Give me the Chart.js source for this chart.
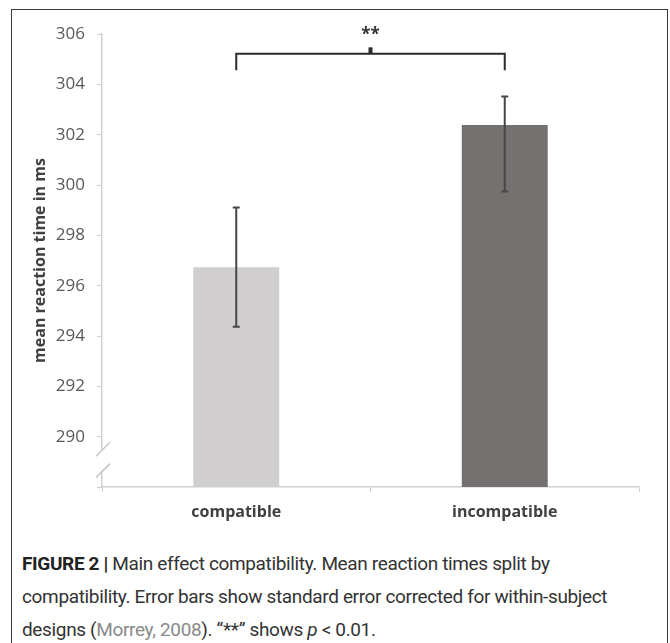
<!DOCTYPE html>
<html>
<head>
<meta charset="utf-8">
<script src="https://cdn.jsdelivr.net/npm/chart.js@4.4.1/dist/chart.umd.min.js"></script>
<style>
  html, body { margin: 0; padding: 0; background: #fff; }
  body { width: 670px; height: 643px; position: relative; overflow: hidden; }
  #frame {
    position: absolute; left: 11px; top: 9px; width: 655px; height: 700px;
    border: 1.5px solid #3a3a3a; border-bottom: none;
  }
  #wrap { position: absolute; left: 0; top: 0; width: 670px; height: 540px; }
  #caption {
    position: absolute; left: 22px; top: 547px; width: 640px;
    font-family: "Liberation Sans Narrow", "Roboto", sans-serif;
    font-size: 19px; line-height: 33px; color: #333;
    letter-spacing: -0.35px;
  }
  #caption b { color: #222; }
  #caption .ref { color: #8a8a8a; }
</style>
</head>
<body>
<div id="frame"></div>
<div id="wrap"><canvas id="rtChart" width="670" height="540"></canvas></div>
<div id="caption">
  <b>FIGURE 2 |</b> Main effect compatibility. Mean reaction times split by<br>
  compatibility. Error bars show standard error corrected for within-subject<br>
  designs (<span class="ref">Morrey, 2008</span>). “**” shows <i>p</i> &lt; 0.01.
</div>

<script>
// chart data
const categories = ['compatible', 'incompatible'];
const meanRT = [296.73, 302.38];
const errPlus = [2.38, 1.14];
const errMinus = [2.36, 2.64];
const barColors = ['#d0cece', '#767171'];
const yTicks = [288, 290, 292, 294, 296, 298, 300, 302, 304, 306];

// significance bracket (in axis units)
const bracketY = 305.22;
const bracketDrop = 304.56;
const bracketNub = 305.47;
const starsY = 306.05;
// axis break (in axis units)
const breakHi = 289.5;
const breakLo = 288.65;

const axisGray = '#d0d0d0';

// error bars, bracket and axis break
const extrasPlugin = {
  id: 'extras',
  afterDatasetsDraw(chart) {
    const ctx = chart.ctx;
    const y = chart.scales.y;
    const bars = chart.getDatasetMeta(0).data;

    ctx.save();
    ctx.strokeStyle = '#474747';
    ctx.lineWidth = 2;
    bars.forEach((bar, i) => {
      const top = y.getPixelForValue(meanRT[i] + errPlus[i]);
      const bot = y.getPixelForValue(meanRT[i] - errMinus[i]);
      ctx.beginPath();
      ctx.moveTo(bar.x, top); ctx.lineTo(bar.x, bot);
      ctx.moveTo(bar.x - 3.5, top); ctx.lineTo(bar.x + 3.5, top);
      ctx.moveTo(bar.x - 3.5, bot); ctx.lineTo(bar.x + 3.5, bot);
      ctx.stroke();
    });
    ctx.restore();
  },
  afterDraw(chart) {
    const ctx = chart.ctx;
    const y = chart.scales.y;
    const bars = chart.getDatasetMeta(0).data;
    const x1 = bars[0].x, x2 = bars[1].x, xm = (x1 + x2) / 2;

    // bracket
    ctx.save();
    ctx.strokeStyle = '#2b2b2b';
    ctx.lineWidth = 2;
    const by = y.getPixelForValue(bracketY);
    const bd = y.getPixelForValue(bracketDrop);
    ctx.beginPath();
    ctx.moveTo(x1, bd); ctx.lineTo(x1, by); ctx.lineTo(x2, by); ctx.lineTo(x2, bd);
    ctx.stroke();
    ctx.lineWidth = 4;
    ctx.beginPath();
    ctx.moveTo(xm, by); ctx.lineTo(xm, y.getPixelForValue(bracketNub));
    ctx.stroke();

    ctx.fillStyle = '#333';
    ctx.font = 'bold 17px "Open Sans"';
    ctx.textAlign = 'center';
    ctx.textBaseline = 'middle';
    ctx.fillText('**', xm, y.getPixelForValue(starsY) + 2);

    // axis break
    const ax = chart.chartArea.left;
    const hi = y.getPixelForValue(breakHi);
    const lo = y.getPixelForValue(breakLo);
    ctx.fillStyle = '#fff';
    ctx.fillRect(ax - 2, hi, 4, lo - hi);
    ctx.strokeStyle = '#c4c4c4';
    ctx.lineWidth = 1.5;
    [hi, lo].forEach(py => {
      ctx.beginPath();
      ctx.moveTo(ax - 6, py + 7);
      ctx.lineTo(ax + 8, py - 7);
      ctx.stroke();
    });
    ctx.restore();
  }
};

new Chart(document.getElementById('rtChart'), {
  type: 'bar',
  data: {
    labels: categories,
    datasets: [{
      data: meanRT,
      backgroundColor: barColors,
      borderWidth: 0,
      categoryPercentage: 1,
      barPercentage: 0.32
    }]
  },
  options: {
    responsive: false,
    animation: false,
    layout: { padding: { left: 10, right: 31, top: 34, bottom: 0 } },
    plugins: {
      legend: { display: false },
      tooltip: { enabled: false }
    },
    scales: {
      x: {
        offset: true,
        border: { color: axisGray, width: 1.5 },
        grid: { offset: true, drawOnChartArea: false, drawTicks: true, tickLength: 5, color: axisGray },
        ticks: {
          color: '#404040',
          padding: 11,
          font: { family: 'Open Sans', size: 16, weight: 'bold' }
        },
        afterFit: s => { s.height = 53; }
      },
      y: {
        min: yTicks[0],
        max: yTicks[yTicks.length - 1],
        afterBuildTicks: s => { s.ticks = yTicks.map(v => ({ value: v })); },
        border: { color: axisGray, width: 1.5 },
        grid: { drawOnChartArea: false, drawTicks: true, tickLength: 5, color: axisGray },
        ticks: {
          color: '#595959',
          padding: 12,
          font: { family: 'Open Sans', size: 17 },
          callback: v => (v === yTicks[0] ? '' : v)
        },
        title: {
          display: true,
          text: 'mean reaction time in ms',
          color: '#404040',
          padding: { top: 21, bottom: 0 },
          font: { family: 'Open Sans', size: 16, weight: 'bold' }
        },
        afterFit: s => { s.width = 92; }
      }
    }
  },
  plugins: [extrasPlugin]
});
</script>
</body>
</html>
